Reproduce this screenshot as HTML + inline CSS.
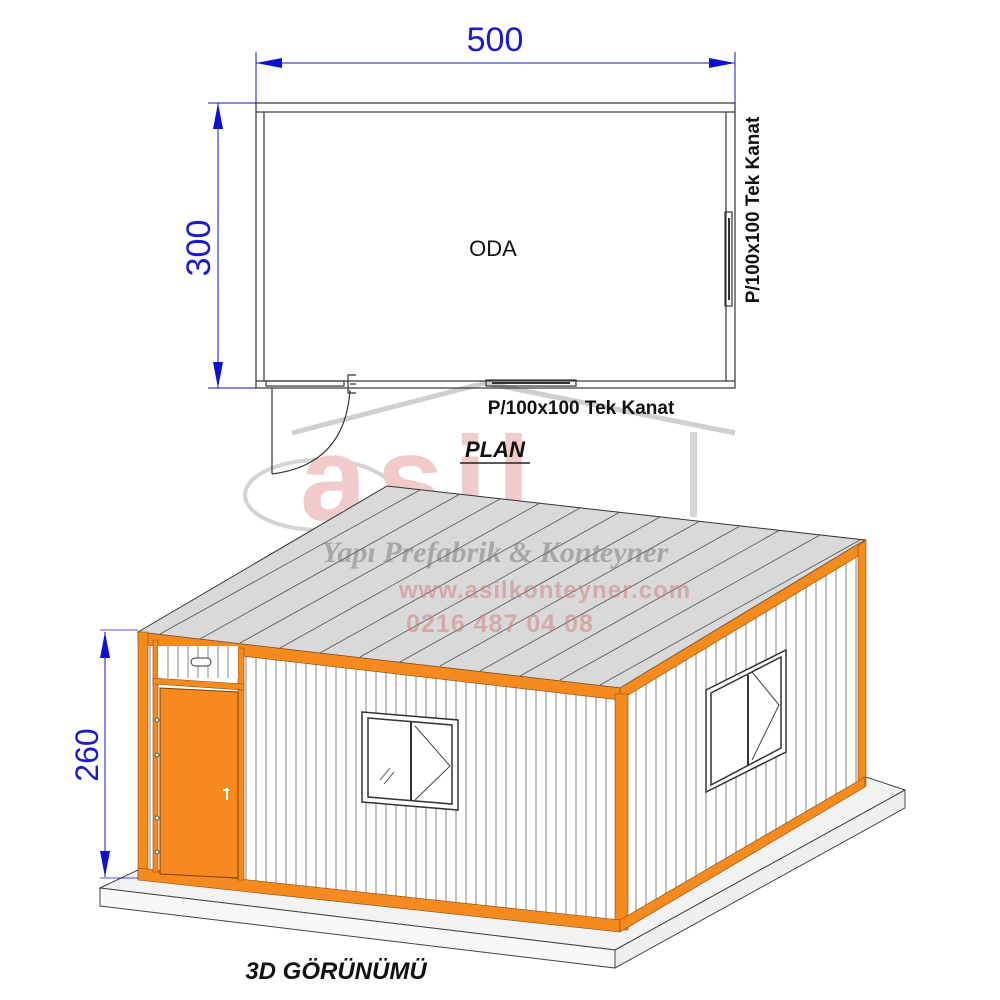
<!DOCTYPE html>
<html><head><meta charset="utf-8"><style>
html,body{margin:0;padding:0;background:#fff;}
svg{display:block;}
</style></head><body>
<svg width="1000" height="1000" viewBox="0 0 1000 1000" xmlns="http://www.w3.org/2000/svg" font-family="Liberation Sans, sans-serif">
<defs>
<clipPath id="fw"><polygon points="138,632 620,688 620,930 138,878"/></clipPath>
<clipPath id="rw"><polygon points="620,688 865,540 865,786 620,930"/></clipPath>
<clipPath id="rf"><polygon points="138,632 387,486 865,540 620,688"/></clipPath>
</defs>

<g opacity="0.55">
<polyline points="292,433 485,383 735,433" fill="none" stroke="#a9a9a9" stroke-width="5"/>
<rect x="690" y="432" width="7" height="85" fill="#b5b5b5"/>
<ellipse cx="320" cy="495" rx="75" ry="35" fill="none" stroke="#b0b0b0" stroke-width="4"/>
<text x="300" y="520" font-family="Liberation Sans, sans-serif" font-weight="bold" font-size="120" fill="#e6a0a0" letter-spacing="10">asil</text>
</g>

<g fill="none" stroke="#333" stroke-width="1.2">
<rect x="256" y="103" width="479" height="285"/>
<rect x="264" y="112" width="462" height="269"/>
<line x1="256" y1="112" x2="264" y2="112"/><line x1="726" y1="112" x2="735" y2="112"/>
<line x1="256" y1="381" x2="264" y2="381"/><line x1="726" y1="381" x2="735" y2="381"/>
<rect x="725" y="212" width="7" height="94"/>
<line x1="729" y1="218" x2="729" y2="300" stroke-width="2"/>
<rect x="486" y="380" width="90" height="6"/>
<line x1="492" y1="383" x2="570" y2="383" stroke-width="2"/>
<rect x="266" y="381" width="78" height="5"/>
<line x1="272" y1="388" x2="272" y2="474"/>
<path d="M272,474 Q345,465 350,390"/>
<path d="M356,375 h-8 v18 h8 M350,384 h6"/>
</g>
<g stroke="#1010d0" fill="#1010d0">
<line x1="256" y1="63" x2="735" y2="63" stroke-width="1"/>
<line x1="256" y1="52" x2="256" y2="103" stroke-width="1"/>
<line x1="735" y1="52" x2="735" y2="103" stroke-width="1"/>
<polygon points="256,63 282,58 282,68" stroke="none"/>
<polygon points="735,63 709,58 709,68" stroke="none"/>
<line x1="218" y1="103" x2="218" y2="388" stroke-width="1"/>
<line x1="208" y1="103" x2="256" y2="103" stroke-width="1"/>
<line x1="208" y1="388" x2="256" y2="388" stroke-width="1"/>
<polygon points="218,103 213,129 223,129" stroke="none"/>
<polygon points="218,388 213,362 223,362" stroke="none"/>
</g>
<text x="495" y="51" font-size="34" fill="#1a1ad0" text-anchor="middle">500</text>
<text transform="translate(210,248) rotate(-90)" font-size="34" fill="#1a1ad0" text-anchor="middle">300</text>
<text x="493" y="256" font-size="22" fill="#111" text-anchor="middle">ODA</text>
<text transform="translate(759,210) rotate(-90)" font-size="19" font-weight="bold" fill="#111" text-anchor="middle">P/100x100 Tek Kanat</text>
<text x="581" y="414" font-size="19" font-weight="bold" fill="#111" text-anchor="middle">P/100x100 Tek Kanat</text>
<text x="495" y="457" font-size="22" font-weight="bold" font-style="italic" fill="#111" text-anchor="middle">PLAN</text>
<line x1="460" y1="463" x2="530" y2="463" stroke="#222" stroke-width="1.5"/>

<polygon points="100,888 615,950 905,790 866,777 615,918 138,870" fill="#f2f2f2" stroke="#444" stroke-width="1"/>
<polygon points="100,888 615,950 615,968 100,906" fill="#f7f7f7" stroke="#444" stroke-width="1"/>
<polygon points="615,950 905,790 905,808 615,968" fill="#efefef" stroke="#444" stroke-width="1"/>

<polygon points="138,632 387,486 865,540 620,688" fill="#d9d9d9" stroke="#333" stroke-width="1"/>
<g clip-path="url(#rf)" stroke="#555" stroke-width="0.8">
<line x1="160" y1="634" x2="420" y2="490"/><line x1="200" y1="639" x2="460" y2="494"/>
<line x1="240" y1="643" x2="500" y2="499"/><line x1="280" y1="648" x2="540" y2="503"/>
<line x1="320" y1="653" x2="580" y2="508"/><line x1="360" y1="657" x2="620" y2="512"/>
<line x1="400" y1="662" x2="660" y2="517"/><line x1="440" y1="666" x2="700" y2="521"/>
<line x1="480" y1="671" x2="740" y2="526"/><line x1="520" y1="676" x2="780" y2="530"/>
<line x1="560" y1="680" x2="820" y2="535"/><line x1="600" y1="685" x2="860" y2="540"/>
</g>

<polygon points="138,632 620,688 620,930 138,878" fill="#fff"/>
<g clip-path="url(#fw)" stroke="#666" stroke-width="0.8">
<path d="M246,640V900M256,640V900M266,640V900M276,640V900M286,640V900M296,640V900M306,640V900M316,640V900M326,640V900M336,640V900M346,640V910M356,640V910M366,640V910M376,640V910M386,640V910M396,640V910M406,640V910M416,640V910M426,640V910M436,640V910M446,640V910M456,640V910M466,640V910M476,640V910M486,640V920M496,640V920M506,640V920M516,640V920M526,640V920M536,640V920M546,640V920M556,640V920M566,640V930M576,640V930M586,640V930M596,640V930M606,640V930M150,640V900"/>
</g>
<polygon points="620,688 865,540 865,786 620,930" fill="#fff"/>
<g clip-path="url(#rw)" stroke="#666" stroke-width="0.8">
<path d="M636,540V940M646,540V940M656,540V940M666,540V940M676,540V940M686,540V940M696,540V940M706,540V940M716,540V940M726,540V940M736,540V940M746,540V940M756,540V940M766,540V940M776,540V940M786,540V940M796,540V940M806,540V940M816,540V940M826,540V940M836,540V940M846,540V940M856,540V940"/>
</g>
<g fill="#f58a1f" stroke="#8a4a10" stroke-width="0.6">
<polygon points="138,632 620,688 620,700 138,644"/>
<polygon points="620,688 865,540 865,552 620,700"/>
<polygon points="138,632 148,632 148,878 138,878"/>
<polygon points="615,694 628,694 628,930 615,930"/>
<polygon points="858,546 866,540 866,786 858,790"/>
<polygon points="138,868 620,920 620,932 138,880"/>
<polygon points="620,920 865,777 865,787 620,932"/>
<polygon points="153,640 158,640 158,872 153,872"/>
<polygon points="238,648 244,648 244,880 238,880"/>
<polygon points="153,678 244,684 244,690 153,684"/>
</g>
<rect x="158" y="646" width="80" height="32" fill="#fff"/>
<g stroke="#666" stroke-width="0.8"><path d="M168,646V678M178,646V678M188,646V678M198,646V678M208,646V678M218,646V678M228,646V678"/></g>
<rect x="191" y="658" width="20" height="8" rx="4" fill="#fff" stroke="#333"/>
<polygon points="160,688 238,692 238,878 160,874" fill="#f7891f" stroke="#7a3e08" stroke-width="1"/>
<path d="M227,788v12M223,790h6" stroke="#fff" stroke-width="2" fill="none"/>
<g fill="#fff" stroke="#555"><circle cx="157" cy="720" r="2"/><circle cx="157" cy="755" r="2"/><circle cx="157" cy="818" r="2"/><circle cx="157" cy="852" r="2"/></g>
<polygon points="362,712 458,720 458,810 362,802" fill="#fff" stroke="#333" stroke-width="1.5"/>
<polygon points="368,718 452,725 452,804 368,797" fill="#fff" stroke="#333" stroke-width="1.5"/>
<line x1="411" y1="721" x2="411" y2="801" stroke="#333" stroke-width="2"/>
<polyline points="415,726 450,766 415,800" fill="none" stroke="#444"/>
<path d="M380,780l10,-12M384,784l10,-12" stroke="#666"/>
<polygon points="706,690 786,650 786,752 706,792" fill="#fff" stroke="#333" stroke-width="1.5"/>
<polygon points="711,693 781,657 781,748 711,785" fill="#fff" stroke="#333" stroke-width="1.5"/>
<line x1="748" y1="675" x2="748" y2="766" stroke="#333" stroke-width="2"/>
<polyline points="752,672 779,705 752,760" fill="none" stroke="#444"/>

<g stroke="#1010d0" fill="#1010d0">
<line x1="105" y1="632" x2="105" y2="877" stroke-width="1"/>
<line x1="100" y1="630" x2="138" y2="630" stroke-width="0.8"/>
<line x1="100" y1="878" x2="138" y2="878" stroke-width="0.8"/>
<polygon points="105,632 100,658 110,658" stroke="none"/>
<polygon points="105,877 100,851 110,851" stroke="none"/>
</g>
<text transform="translate(98,755) rotate(-90)" font-size="32" fill="#1a1ad0" text-anchor="middle">260</text>

<g opacity="0.5">
<text x="495" y="562" font-family="Liberation Serif, serif" font-style="italic" font-weight="bold" font-size="30" fill="#777" text-anchor="middle">Yapı Prefabrik &amp; Konteyner</text>
<text x="545" y="598" font-weight="bold" font-size="24" fill="#d07a7a" text-anchor="middle" letter-spacing="1">www.asilkonteyner.com</text>
<text x="500" y="632" font-weight="bold" font-size="25" fill="#d07a7a" text-anchor="middle" letter-spacing="1">0216 487 04 08</text>
</g>

<text x="336" y="979" font-size="24" font-weight="bold" font-style="italic" fill="#111" text-anchor="middle">3D GÖRÜNÜMÜ</text>
</svg>
</body></html>
